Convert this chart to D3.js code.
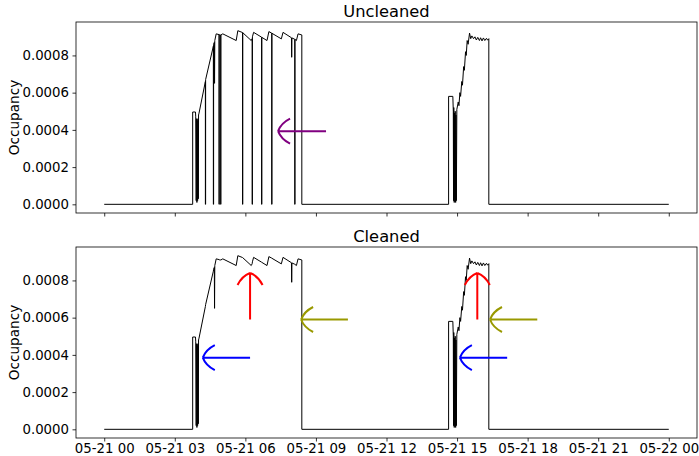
<!DOCTYPE html>
<html>
<head>
<meta charset="utf-8">
<script src="https://cdn.jsdelivr.net/npm/d3@7"></script>
<style>
  body { margin: 0; background: #fff; }
  svg text { font-family: "DejaVu Sans", sans-serif; fill: #000; }
</style>
</head>
<body>
<div id="chart"></div>
<script>
// hours after 05-21 00:00, occupancy before / after cleaning
const hours = [
  0, 3.76, 3.76, 3.88, 3.89, 3.91, 3.92, 3.94, 3.95, 3.97, 3.98, 4.00, 4.01, 4.03,
  4.30, 4.30, 4.31, 4.31, 4.64, 4.64, 4.65, 4.65, 4.68, 4.69, 4.70, 4.76,
  4.88, 4.88, 4.89, 4.89, 4.95, 4.95, 4.96, 4.96, 5.04, 5.61, 5.68,
  5.88, 5.88, 5.89, 5.89, 6.25, 6.29, 6.29, 6.30, 6.30, 6.35,
  6.69, 6.69, 6.70, 6.70, 6.92, 7.00, 7.12, 7.12, 7.13, 7.13,
  7.53, 7.60, 7.96, 7.97, 7.98, 8.10, 8.10, 8.11, 8.11, 8.17, 8.24, 8.40, 8.40,
  14.64, 14.64, 14.82, 14.84, 14.85, 14.86, 14.88, 14.89, 14.91, 14.92, 14.94, 14.95, 14.97, 14.99,
  15.05, 15.08, 15.12, 15.15, 15.20, 15.23, 15.28, 15.31, 15.36, 15.39, 15.43, 15.47, 15.53,
  15.58, 15.63, 15.70, 15.76, 15.82, 15.88, 15.95, 16.00, 16.06, 16.12, 16.18, 16.25, 16.30, 16.35, 16.35,
  24
];

const uncleaned = [
  0, 0, 0.000496, 0.000496, 0.00047, 0.00002, 0.00046, 0.00001, 0.00045, 0.00002, 0.00046, 0.00003, 0.00048, 0.00049,
  0.00066, 0, 0, 0.00067, 0.00085, 0, 0, 0.00086, 0.00087, 0.00065, 0.00088, 0.000916,
  0.000912, 0, 0, 0.000911, 0.00091, 0, 0, 0.00091, 0.000916, 0.00088, 0.000933,
  0.000923, 0, 0, 0.000922, 0.00088, 0.00089, 0, 0, 0.0009, 0.000924,
  0.000898, 0, 0, 0.000897, 0.00088, 0.000928, 0.00092, 0, 0, 0.000919,
  0.000889, 0.000924, 0.000895, 0.00079, 0.000894, 0.000887, 0, 0, 0.000886, 0.00088, 0.000916, 0.00091, 0,
  0, 0.00058, 0.00058, 0.0005, 0.00002, 0.00052, 0.00001, 0.00049, 0.00002, 0.0005, 0.00001, 0.00048, 0.00002, 0.00051,
  0.00055, 0.00053, 0.0006, 0.00058, 0.00066, 0.00064, 0.00074, 0.00072, 0.00082, 0.0008, 0.00088, 0.00086, 0.00092,
  0.00089, 0.000905, 0.00089, 0.0009, 0.000883, 0.000897, 0.00088, 0.000895, 0.000878, 0.000894, 0.00088, 0.000892, 0.000882, 0.00089, 0,
  0
];

const cleaned = [
  0, 0, 0.000496, 0.000496, 0.00047, 0.00002, 0.00046, 0.00001, 0.00045, 0.00002, 0.00046, 0.00003, 0.00048, 0.00049,
  0.00066, 0.00066, 0.00067, 0.00067, 0.00085, 0.00085, 0.00086, 0.00086, 0.00087, 0.00065, 0.00088, 0.000916,
  0.000912, 0.000912, 0.000911, 0.000911, 0.00091, 0.00091, 0.00091, 0.00091, 0.000916, 0.00088, 0.000933,
  0.000923, 0.000923, 0.000922, 0.000922, 0.00088, 0.00089, 0.00089, 0.0009, 0.0009, 0.000924,
  0.000898, 0.000898, 0.000897, 0.000897, 0.00088, 0.000928, 0.00092, 0.00092, 0.000919, 0.000919,
  0.000889, 0.000924, 0.000895, 0.00079, 0.000894, 0.000887, 0.000887, 0.000886, 0.000886, 0.00088, 0.000916, 0.00091, 0,
  0, 0.00058, 0.00058, 0.0005, 0.00002, 0.00052, 0.00001, 0.00049, 0.00002, 0.0005, 0.00001, 0.00048, 0.00002, 0.00051,
  0.00055, 0.00053, 0.0006, 0.00058, 0.00066, 0.00064, 0.00074, 0.00072, 0.00082, 0.0008, 0.00088, 0.00086, 0.00092,
  0.00089, 0.000905, 0.00089, 0.0009, 0.000883, 0.000897, 0.00088, 0.000895, 0.000878, 0.000894, 0.00088, 0.000892, 0.000882, 0.00089, 0,
  0
];

const yTicks = [0, 0.0002, 0.0004, 0.0006, 0.0008];

// annotation arrows: [panel, colour, tail hour, tail occ, tip hour, tip occ]
const arrows = [
  [0, "#800080", 9.43, 0.000393, 7.39, 0.000393],
  [1, "#ff0000", 6.2, 0.00059, 6.2, 0.00084],
  [1, "#999900", 10.36, 0.00059, 8.37, 0.00059],
  [1, "#0000ff", 6.2, 0.000385, 4.19, 0.000385],
  [1, "#ff0000", 15.86, 0.00059, 15.86, 0.00084],
  [1, "#999900", 18.41, 0.00059, 16.4, 0.00059],
  [1, "#0000ff", 17.13, 0.000385, 15.12, 0.000385]
];

var w = 699;
var h = 456;
var left = 76, right = 697;
var panels = [
  { title: "Uncleaned", top: 22, bottom: 213, values: uncleaned, labels: false },
  { title: "Cleaned", top: 247, bottom: 438, values: cleaned, labels: true }
];

const base = new Date(2020, 4, 21, 0, 0);
const toDate = (hr) => new Date(base.getTime() + hr * 3600 * 1000);

var svg = d3.select("#chart").append("svg")
  .attr("width", w)
  .attr("height", h);

svg.append("rect").attr("width", w).attr("height", h).attr("fill", "#fff");

var xScale = d3.scaleTime()
  .domain([toDate(-1.2), toDate(25.2)])
  .range([left, right]);

var xTicks = d3.range(0, 25, 3).map(toDate);

panels.forEach(function (p, i) {
  var rows = hours.map((hr, k) => ({ t: toDate(hr), v: p.values[k] }));
  var ext = d3.extent(p.values);
  var pad = (ext[1] - ext[0]) * 0.05;
  var yScale = d3.scaleLinear()
    .domain([ext[0] - pad, ext[1] + pad])
    .range([p.bottom, p.top]);

  var g = svg.append("g");

  var line = d3.line()
    .x((d) => xScale(d.t))
    .y((d) => yScale(d.v));

  g.append("path")
    .datum(rows)
    .attr("d", line)
    .attr("fill", "none")
    .attr("stroke", "#000")
    .attr("stroke-width", 1);

  // arrows for this panel
  arrows.filter((a) => a[0] === i).forEach(function (a) {
    var x0 = xScale(toDate(a[2])), y0 = yScale(a[3]);
    var x1 = xScale(toDate(a[4])), y1 = yScale(a[5]);
    var len = Math.hypot(x1 - x0, y1 - y0);
    var dx = (x1 - x0) / len, dy = (y1 - y0) / len;
    var nx = -dy, ny = dx;
    var head = "";
    [1, -1].forEach(function (s) {
      var cx = x1 - dx * 3 + nx * 8 * s, cy = y1 - dy * 3 + ny * 8 * s;
      var ex = x1 - dx * 12 + nx * 12.5 * s, ey = y1 - dy * 12 + ny * 12.5 * s;
      head += "M" + x1 + "," + y1 + "Q" + cx + "," + cy + " " + ex + "," + ey;
    });
    g.append("path")
      .attr("d", "M" + x0 + "," + y0 + "L" + x1 + "," + y1 + head)
      .attr("fill", "none")
      .attr("stroke", a[1])
      .attr("stroke-width", 2);
  });

  var xAxis = d3.axisBottom(xScale)
    .tickValues(xTicks)
    .tickSize(3.5)
    .tickPadding(2.5)
    .tickFormat(p.labels ? d3.timeFormat("%m-%d %H") : "");

  var yAxis = d3.axisLeft(yScale)
    .tickValues(yTicks)
    .tickSize(3.5)
    .tickPadding(3.5)
    .tickFormat(d3.format(".4f"));

  var gx = g.append("g")
    .attr("transform", "translate(0," + p.bottom + ")")
    .call(xAxis);
  var gy = g.append("g")
    .attr("transform", "translate(" + left + ",0)")
    .call(yAxis);

  [gx, gy].forEach(function (ax) {
    ax.select(".domain").remove();
    ax.selectAll("line").attr("stroke", "#000").attr("stroke-width", 0.8);
    ax.selectAll("text").attr("font-size", "13.3px").attr("font-family", "DejaVu Sans").attr("fill", "#000");
  });

  // frame
  g.append("rect")
    .attr("x", left)
    .attr("y", p.top)
    .attr("width", right - left)
    .attr("height", p.bottom - p.top)
    .attr("fill", "none")
    .attr("stroke", "#000")
    .attr("stroke-width", 0.8);

  g.append("text")
    .attr("x", (left + right) / 2)
    .attr("y", p.top - 5)
    .attr("text-anchor", "middle")
    .attr("font-size", "16.3px")
    .text(p.title);

  g.append("text")
    .attr("transform", "translate(19," + (p.top + p.bottom) / 2 + ") rotate(-90)")
    .attr("text-anchor", "middle")
    .attr("font-size", "13.6px")
    .text("Occupancy");
});
</script>
</body>
</html>
